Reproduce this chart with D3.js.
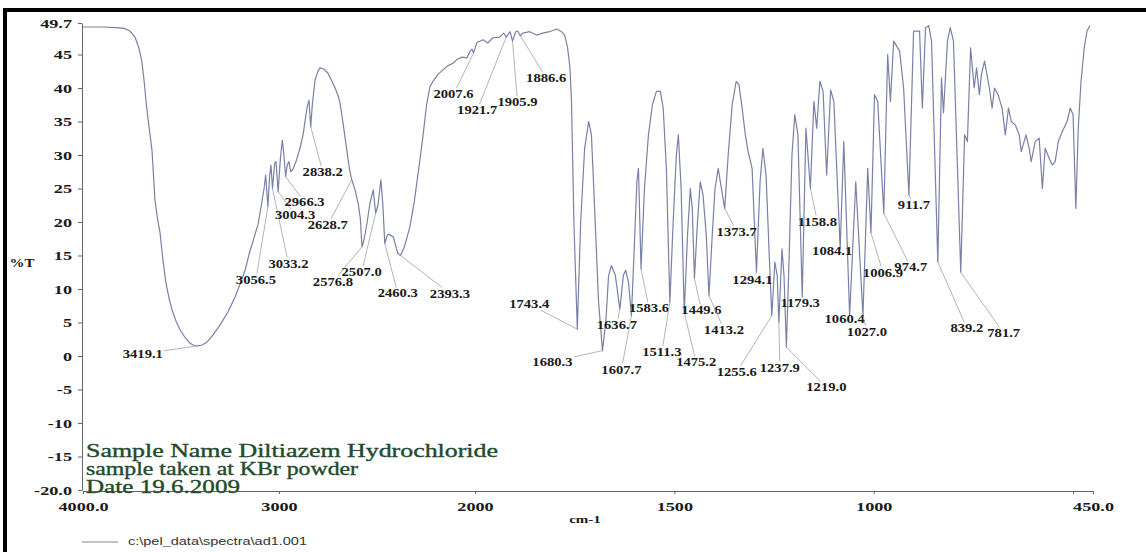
<!DOCTYPE html>
<html>
<head>
<meta charset="utf-8">
<script src="https://cdn.jsdelivr.net/npm/d3@7"></script>
<style>
  body { margin: 0; background: #fff; }
</style>
</head>
<body>
<div id="chart"></div>
<script>
// IR spectrum: wavenumber (cm-1) and %T, same order
const waveNumbers = [
  4000, 3900, 3830, 3790, 3760, 3735, 3715, 3700, 3688, 3675, 3660, 3648, 3633, 3620, 3607, 3592, 3577, 3560, 3546, 3525,
  3505, 3480, 3454, 3435, 3419.1, 3395, 3367, 3340, 3301, 3260, 3224, 3195, 3173, 3150, 3138, 3120, 3107, 3090, 3076, 3068,
  3056.5, 3048, 3041, 3033.2, 3022, 3015, 3004.3, 2993, 2983, 2975, 2966.3, 2958, 2950, 2940, 2930, 2910, 2893, 2876, 2865, 2856,
  2847, 2838.2, 2830, 2816, 2800, 2791, 2770, 2750, 2730, 2714, 2700, 2689, 2672, 2653, 2640, 2628.7, 2612, 2595, 2585, 2576.8,
  2565, 2550, 2536, 2519, 2507.0, 2495, 2480, 2470, 2460.3, 2450, 2442, 2430, 2417, 2405, 2393.3, 2380, 2360, 2332, 2310, 2297,
  2280, 2264, 2247, 2230, 2214, 2190, 2163, 2140, 2112, 2090, 2066, 2041, 2025, 2015, 2007.6, 1995, 1980, 1968, 1955, 1938,
  1928, 1921.7, 1912, 1905.9, 1898, 1893, 1886.6, 1880, 1863, 1845, 1830, 1813, 1795, 1783, 1775, 1768, 1762, 1758, 1752, 1743.4,
  1735, 1725, 1715, 1708, 1700, 1690, 1680.3, 1672, 1665, 1658, 1648, 1636.7, 1628, 1622, 1615, 1607.7, 1600, 1594, 1590, 1583.6,
  1575, 1565, 1555, 1545, 1535, 1528, 1520, 1511.3, 1503, 1495, 1490, 1483, 1475.2, 1467, 1460, 1455, 1449.6, 1442, 1435, 1428,
  1420, 1413.2, 1405, 1398, 1390, 1382, 1373.7, 1365, 1355, 1345, 1338, 1330, 1322, 1315, 1305, 1294.1, 1285, 1278, 1270, 1262,
  1255.6, 1248, 1242, 1237.9, 1230, 1225, 1219.0, 1212, 1205, 1198, 1190, 1179.3, 1170, 1158.8, 1150, 1143, 1135, 1127, 1118, 1108,
  1100, 1084.1, 1075, 1060.4, 1045, 1027.0, 1015, 1006.9, 998, 990, 974.7, 965, 958, 950, 935, 925, 911.7, 900, 885, 878,
  870, 862, 855, 839.2, 830, 825, 815, 808, 800, 781.7, 772, 765, 757, 748, 742, 735, 730, 722, 710, 703,
  697, 688, 678, 670, 662, 655, 645, 635, 630, 618, 610, 605, 595, 585, 577, 570, 560, 552, 545, 537,
  527, 515, 507, 500, 493, 487, 480, 472, 465, 458
];
const percentT = [
  49.1, 49.1, 49.0, 48.9, 48.5, 47.6, 46.0, 44.0, 41.0, 37.0, 33.5, 30.7, 23.3, 20.5, 18.4, 14.3, 10.9, 8.5, 6.9, 5.2,
  3.9, 2.8, 1.9, 1.6, 1.5, 1.6, 2.1, 3.0, 4.6, 6.6, 8.8, 11.0, 12.8, 15.5, 16.6, 18.4, 19.6, 22.5, 25.0, 27.0,
  22.3, 26.8, 28.5, 25.0, 28.8, 29.0, 24.5, 29.5, 32.2, 30.0, 26.8, 28.5, 29.0, 27.5, 27.8, 29.3, 31.0, 33.2, 35.5, 37.2,
  38.2, 34.2, 37.5, 41.2, 42.6, 43.0, 42.8, 42.2, 41.0, 40.0, 39.0, 37.8, 34.5, 30.5, 27.8, 26.3, 24.8, 22.6, 20.5, 16.3,
  17.5, 20.0, 22.8, 24.8, 21.3, 22.5, 26.3, 22.5, 16.8, 17.8, 18.2, 18.0, 17.8, 16.5, 15.3, 15.0, 16.3, 19.3, 23.0, 25.8,
  29.5, 33.2, 37.5, 40.2, 41.0, 42.0, 42.7, 43.3, 43.7, 44.3, 44.6, 44.5, 45.5, 45.8, 45.2, 46.8, 47.2, 46.7, 47.5, 47.6,
  48.2, 47.6, 48.4, 47.0, 48.4, 48.5, 47.8, 48.2, 48.4, 47.9, 48.2, 48.4, 48.8, 48.4, 47.9, 46.1, 43.1, 38.2, 20.0, 4.0,
  20.0, 31.0, 35.0, 33.0, 22.0, 8.0, 0.8, 5.0, 12.0, 13.5, 12.0, 7.0, 12.0, 12.8, 11.0, 6.0, 17.0, 26.0, 28.0, 13.0,
  25.0, 33.0, 37.5, 39.5, 39.5, 37.0, 28.0, 8.0, 20.0, 30.0, 33.0, 25.0, 6.5, 18.0, 25.0, 22.0, 11.6, 20.0, 26.0, 24.0,
  18.0, 9.0, 18.0, 25.0, 28.0, 25.0, 22.0, 30.0, 37.5, 41.0, 40.5, 37.0, 33.0, 30.5, 28.0, 12.5, 26.0, 31.0, 27.0, 15.0,
  6.0, 14.0, 12.0, 5.0, 16.0, 12.0, 1.3, 15.0, 30.0, 36.0, 33.0, 8.8, 34.0, 25.0, 38.0, 34.0, 41.0, 39.5, 27.0, 39.7,
  38.0, 16.0, 32.0, 6.0, 26.0, 6.0, 28.0, 18.4, 39.0, 38.0, 21.3, 45.0, 38.0, 47.0, 45.5, 40.0, 24.0, 48.5, 48.5, 37.0,
  49.0, 49.3, 47.0, 14.0, 41.5, 36.3, 47.0, 49.0, 47.0, 12.5, 33.0, 32.0, 46.0, 40.0, 43.0, 39.0, 42.0, 44.0, 40.0, 37.0,
  40.0, 39.0, 37.0, 33.0, 37.0, 35.0, 34.5, 33.0, 30.5, 33.0, 31.0, 29.0, 32.0, 32.5, 25.0, 31.0, 29.5, 28.5, 29.0, 32.0,
  33.5, 35.0, 37.0, 36.0, 22.0, 34.0, 41.0, 46.0, 48.5, 49.3
];

const yTickValues = [49.7, 45, 40, 35, 30, 25, 20, 15, 10, 5, 0, -5, -10, -15, -20];
const yTickLabels = ["49.7", "45", "40", "35", "30", "25", "20", "15", "10", "5", "0", "-5", "-10", "-15", "-20.0"];
const xTickValues = [4000, 3000, 2000, 1500, 1000, 500, 450];
const xTickLabels = ["4000.0", "3000", "2000", "1500", "1000", "", "450.0"];

// labelled bands (cm-1)
const peakWaves = [3419.1, 3056.5, 3033.2, 3004.3, 2966.3, 2838.2, 2628.7, 2576.8, 2507.0, 2460.3, 2393.3,
  2007.6, 1921.7, 1905.9, 1886.6, 1743.4, 1680.3, 1636.7, 1607.7, 1583.6, 1511.3, 1475.2, 1449.6, 1413.2,
  1373.7, 1294.1, 1255.6, 1237.9, 1219.0, 1179.3, 1158.8, 1084.1, 1060.4, 1027.0, 1006.9, 974.7, 911.7, 839.2, 781.7];
// where each label sits relative to its band (px)
const peakLabelOffsets = [[-54, 8], [-12, 73], [16, 75], [17, 23], [19, 26], [12, 45], [-24, 45], [-29, 35], [-14, 59], [13, 50], [52, 40],
  [-20, 41], [-29, 73], [5, 61], [26, 42], [-48, -25], [-50, 11], [-3, 16], [-10, 54], [8, 39], [-8, 50], [12, 50], [7, 32], [15, 34],
  [12, 23], [-4, 8], [-35, 56], [1, 45], [40, 40], [-2, 6], [7, 33], [-8, 2], [-5, 3], [4, 16], [12, 40], [27, 54], [5, 10], [29, 66], [43, 61]];

const sampleLines = ["Sample Name Diltiazem Hydrochloride", "sample taken at KBr powder", "Date 19.6.2009"];
const sampleWidths = [412, 272, 154];
const legendText = "c:\\pel_data\\spectra\\ad1.001";

var W = 1146, H = 552;
var svg = d3.select('#chart').append('svg')
    .attr('width', W).attr('height', H)
    .style('font-family', '"Liberation Serif", "DejaVu Serif", serif');

// the scan is wider than it is tall, so stretch text sideways
function stretch(sel, k) {
    sel.each(function () {
        var len = this.getComputedTextLength();
        d3.select(this).attr('textLength', len * k).attr('lengthAdjust', 'spacingAndGlyphs');
    });
}

// frame (top and left edges only, like the scan)
svg.append('rect').attr('x', 4).attr('y', 8).attr('width', W - 4).attr('height', 4).attr('fill', '#000');
svg.append('rect').attr('x', 3).attr('y', 8).attr('width', 4).attr('height', H - 8).attr('fill', '#000');

var x = d3.scaleLinear().domain([4000, 2000, 450]).range([83, 475, 1093]);
var y = d3.scaleLinear().domain([-20, 49.7]).range([490, 23]);

var yaxis = svg.append('g')
    .attr('transform', 'translate(82,0)')
    .call(d3.axisLeft(y).tickValues(yTickValues).tickFormat((d, i) => yTickLabels[i])
        .tickSize(4).tickSizeOuter(0).tickPadding(6));
var xaxis = svg.append('g')
    .attr('transform', 'translate(0,491)')
    .call(d3.axisBottom(x).tickValues(xTickValues).tickFormat((d, i) => xTickLabels[i])
        .tickSize(3).tickSizeOuter(0).tickPadding(8));
[yaxis, xaxis].forEach((g) => {
    g.select('.domain').attr('stroke', '#666');
    g.selectAll('.tick line').attr('stroke', '#666');
    g.selectAll('.tick text')
        .attr('fill', '#1a1a1a')
        .style('font-family', '"Liberation Serif", serif')
        .style('font-size', '13px').style('font-weight', 'bold');
});
stretch(yaxis.selectAll('.tick text'), 1.4);
stretch(xaxis.selectAll('.tick text'), 1.4);

svg.append('text').attr('x', 22).attr('y', 267)
    .attr('text-anchor', 'middle').attr('fill', '#1a1a1a')
    .style('font-size', '13px').style('font-weight', 'bold')
    .text('%T').call(stretch, 1.15);
svg.append('text').attr('x', 585).attr('y', 523)
    .attr('text-anchor', 'middle').attr('fill', '#1a1a1a')
    .style('font-size', '10px').style('font-weight', 'bold')
    .text('cm-1').call(stretch, 1.5);

// spectrum
var spectrum = d3.zip(waveNumbers, percentT);
var line = d3.line().x((d) => x(d[0])).y((d) => y(d[1]));
svg.append('path')
    .datum(spectrum)
    .attr('d', line)
    .attr('fill', 'none')
    .attr('stroke', '#7a80a6')
    .attr('stroke-width', 1.2)
    .attr('stroke-linejoin', 'round');

// band labels with leader lines
var labels = svg.append('g');
peakWaves.forEach((w, i) => {
    var j = waveNumbers.indexOf(w);
    var px = x(w), py = y(percentT[j]);
    var lx = px + peakLabelOffsets[i][0], ly = py + peakLabelOffsets[i][1];
    var dx = px - lx, dy = py - ly;
    var t = Math.min(dx ? 21 / Math.abs(dx) : Infinity, dy ? 6 / Math.abs(dy) : Infinity);
    if (t < 1) {
        labels.append('line')
            .attr('x1', px).attr('y1', py)
            .attr('x2', lx + dx * t).attr('y2', ly + dy * t)
            .attr('stroke', '#a4a0a4').attr('stroke-width', 0.8);
    }
    labels.append('text')
        .attr('x', lx).attr('y', ly).attr('dy', '0.35em')
        .attr('text-anchor', 'middle').attr('fill', '#1a1a1a')
        .style('font-size', '11.5px').style('font-weight', 'bold')
        .text(w.toFixed(1))
        .call(stretch, 1.27);
});

// sample description
svg.append('g').selectAll('text')
    .data(sampleLines)
    .enter().append('text')
    .attr('x', 86).attr('y', (d, i) => 457 + i * 18)
    .attr('fill', '#234a2c')
    .attr('stroke', '#234a2c').attr('stroke-width', 0.35)
    .style('font-size', '18px')
    .attr('textLength', (d, i) => sampleWidths[i])
    .attr('lengthAdjust', 'spacingAndGlyphs')
    .text((d) => d);

// legend
svg.append('line').attr('x1', 82).attr('x2', 118).attr('y1', 542).attr('y2', 542)
    .attr('stroke', '#888').attr('stroke-width', 1);
svg.append('text').attr('x', 128).attr('y', 545)
    .attr('fill', '#333')
    .style('font-family', '"Liberation Sans", Arial, sans-serif').style('font-size', '10px')
    .attr('textLength', 179).attr('lengthAdjust', 'spacingAndGlyphs')
    .text(legendText);
</script>
</body>
</html>
